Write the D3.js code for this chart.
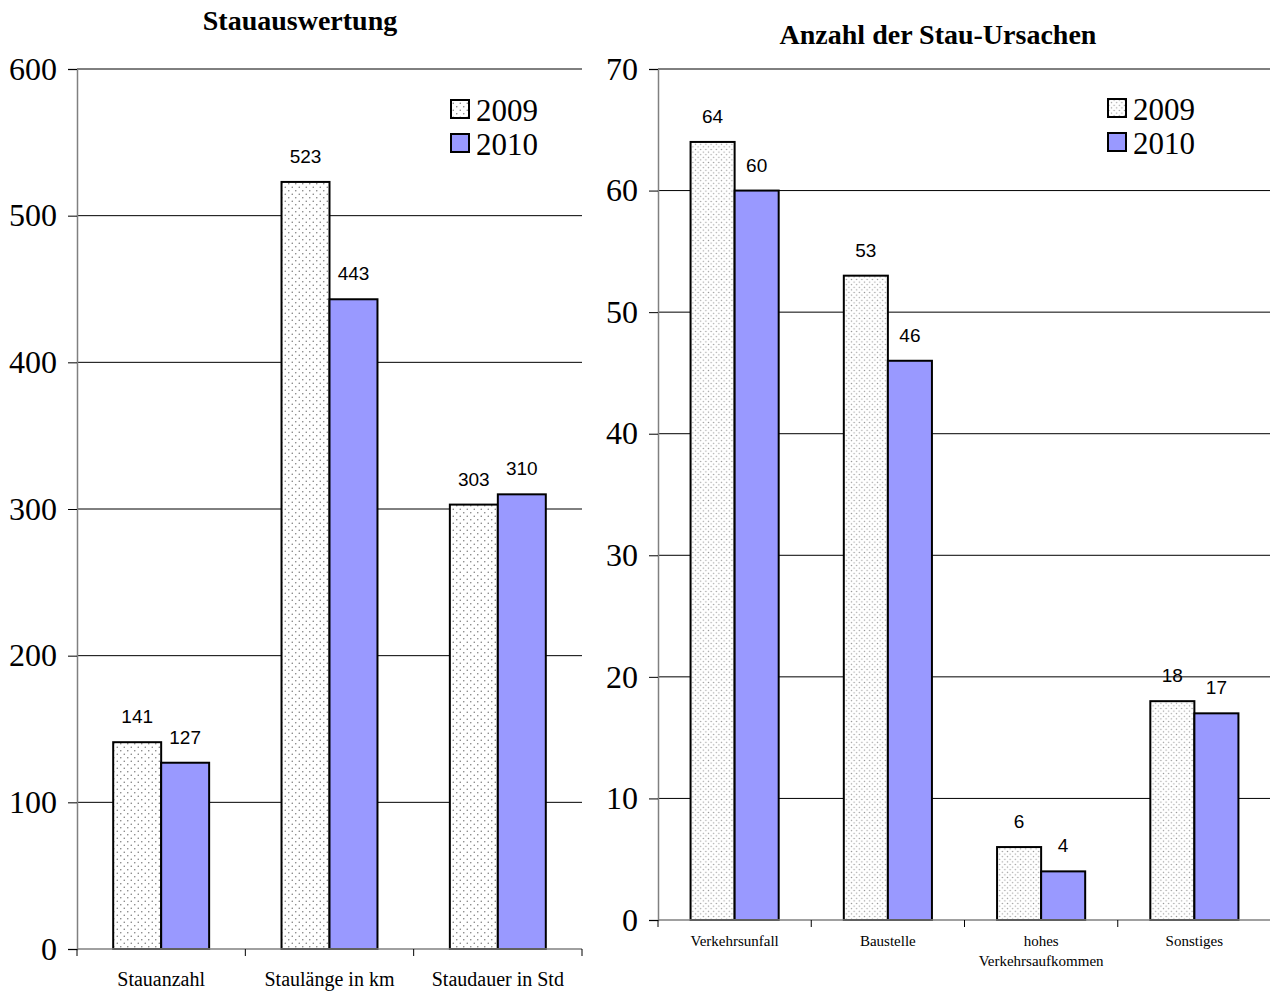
<!DOCTYPE html>
<html><head><meta charset="utf-8">
<script src="https://cdn.jsdelivr.net/npm/d3@7"></script>
<style>body{margin:0;background:#fff}svg{display:block}</style>
</head><body>
<svg id="c" width="1270" height="992"></svg>
<script>
const seriesNames = ["2009", "2010"];
const leftCategories = ["Stauanzahl", "Staulänge in km", "Staudauer in Std"];
const left2009 = [141, 523, 303];
const left2010 = [127, 443, 310];
const leftTicks = [0, 100, 200, 300, 400, 500, 600];
const rightCategories = [["Verkehrsunfall"], ["Baustelle"], ["hohes", "Verkehrsaufkommen"], ["Sonstiges"]];
const right2009 = [64, 53, 6, 18];
const right2010 = [60, 46, 4, 17];
const rightTicks = [0, 10, 20, 30, 40, 50, 60, 70];

const SERIF = "'Liberation Serif', 'Times New Roman', serif";
const SANS = "'Liberation Sans', Arial, sans-serif";
const svg = d3.select("#c");
const defs = svg.append("defs");
function dotPattern(id, s, r, col) {
  const p = defs.append("pattern").attr("id", id).attr("patternUnits", "userSpaceOnUse")
    .attr("width", s * 2).attr("height", s * 2);
  p.append("rect").attr("width", s * 2).attr("height", s * 2).attr("fill", "#fff");
  p.append("circle").attr("cx", s * 0.5).attr("cy", s * 0.5).attr("r", r).attr("fill", col);
  p.append("circle").attr("cx", s * 1.5).attr("cy", s * 1.5).attr("r", r).attr("fill", col);
}
dotPattern("dotsL", 3.5, 0.75, "#777");
dotPattern("dotsR", 2.6, 0.7, "#999");

function chart(o) {
  const g = svg.append("g");
  const y = d3.scaleLinear().domain([0, o.max]).range([o.y0, o.y1]);
  const x = d3.scaleBand().domain(d3.range(o.cats.length)).range([o.x0, o.x1]).paddingInner(0).paddingOuter(0);
  const bw = x.bandwidth() * o.frac / 2;
  g.selectAll(".grid").data(o.ticks.filter(d => d > 0)).join("line")
    .attr("x1", o.x0).attr("x2", o.x1).attr("y1", d => y(d)).attr("y2", d => y(d))
    .attr("stroke", "#000").attr("stroke-width", 1);
  const ya = d3.axisLeft(y).tickValues(o.ticks).tickSize(9).tickPadding(11);
  const yg = g.append("g").attr("transform", `translate(${o.x0},0)`).call(ya)
    .attr("font-family", SERIF).attr("font-size", 32);
  yg.select(".domain").attr("stroke", "#808080").attr("stroke-width", 1.5);
  yg.selectAll(".tick line").attr("stroke", "#000");
  yg.selectAll("text").style("font-family", SERIF).style("font-size", "32px").attr("fill", "#000");
  const data = [];
  o.cats.forEach((c, i) => {
    data.push({i, s: 0, v: o.a[i]});
    data.push({i, s: 1, v: o.b[i]});
  });
  const cx = i => x(i) + x.bandwidth() / 2;
  g.selectAll(".bar").data(data).join("rect")
    .attr("x", d => cx(d.i) - bw + d.s * bw).attr("width", bw)
    .attr("y", d => y(d.v)).attr("height", d => y(0) - y(d.v))
    .attr("fill", d => d.s === 0 ? `url(#${o.pat})` : "#9999ff")
    .attr("stroke", "#000").attr("stroke-width", 2);
  g.selectAll(".lbl").data(data).join("text")
    .attr("x", d => cx(d.i) - bw / 2 + d.s * bw).attr("y", d => y(d.v) - 19)
    .attr("text-anchor", "middle").style("font-family", SANS)
    .style("font-size", "19px").text(d => d.v);
  g.append("line").attr("x1", o.x0).attr("x2", o.x1).attr("y1", y(0)).attr("y2", y(0))
    .attr("stroke", "#808080").attr("stroke-width", 1.5);
  g.selectAll(".xt").data(d3.range(o.cats.length + 1)).join("line")
    .attr("x1", i => o.x0 + i * x.step()).attr("x2", i => o.x0 + i * x.step())
    .attr("y1", y(0)).attr("y2", y(0) + 7).attr("stroke", "#000");
  o.cats.forEach((c, i) => {
    const lines = Array.isArray(c) ? c : [c];
    lines.forEach((t, k) => {
      g.append("text").attr("x", cx(i)).attr("y", y(0) + o.labOff + k * o.labLine)
        .attr("text-anchor", "middle").style("font-family", SERIF)
        .style("font-size", o.labSize + "px").text(t);
    });
  });
  g.append("text").attr("x", o.tx).attr("y", o.ty).attr("text-anchor", "middle")
    .style("font-family", SERIF).style("font-weight", "bold")
    .style("font-size", "28px").text(o.title);
  seriesNames.forEach((s, k) => {
    g.append("rect").attr("x", o.lx).attr("y", o.ly + k * 34).attr("width", 18).attr("height", 18)
      .attr("fill", k === 0 ? `url(#${o.pat})` : "#9999ff").attr("stroke", "#000").attr("stroke-width", 2);
    g.append("text").attr("x", o.lx + 25).attr("y", o.ly + k * 34 + 21)
      .style("font-family", SERIF).style("font-size", "31px").text(s);
  });
}

chart({cats: leftCategories, a: left2009, b: left2010, ticks: leftTicks, max: 600,
  x0: 77, x1: 582, y0: 949, y1: 69, frac: 0.57, pat: "dotsL",
  labOff: 37, labLine: 20, labSize: 20, title: "Stauauswertung", tx: 300, ty: 30,
  lx: 451, ly: 100});
chart({cats: rightCategories, a: right2009, b: right2010, ticks: rightTicks, max: 70,
  x0: 658, x1: 1271, y0: 920, y1: 69, frac: 0.575, pat: "dotsR",
  labOff: 26, labLine: 20, labSize: 15, title: "Anzahl der Stau-Ursachen", tx: 938, ty: 44,
  lx: 1108, ly: 99});
</script>
</body></html>
